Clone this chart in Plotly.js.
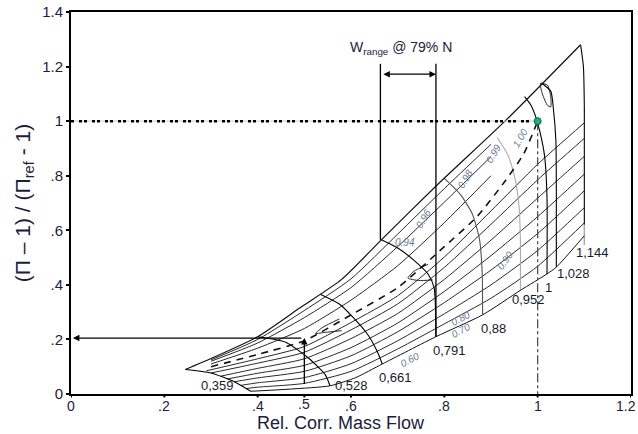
<!DOCTYPE html>
<html><head><meta charset="utf-8">
<script src="https://cdn.plot.ly/plotly-3.0.1.min.js"></script>
<style>html,body{margin:0;padding:0;background:#fff}#chart{width:638px;height:434px}</style>
</head><body><div id="chart"></div>
<script>
// ---- tick labels ----
const xTickVals = [0, 0.2, 0.4, 0.5, 0.6, 0.8, 1, 1.2];
const xTickText = ['0', '.2', '.4', '.5', '.6', '.8', '1', '1.2'];
const yTickVals = [0, 0.2, 0.4, 0.6, 0.8, 1, 1.2, 1.4];
const yTickText = ['0', '.2', '.4', '.6', '.8', '1', '1.2', '1.4'];
const xTitle = 'Rel. Corr. Mass Flow';
const yTitle = '(Π \u2013 1) / (Π<sub>ref</sub> - 1)';

// ---- surge line, choke line, peak-efficiency (dashed) line ----
const surgeX = [0.245, 0.30, 0.40, 0.49, 0.58, 0.665, 0.79, 0.93, 1.092];
const surgeY = [0.09, 0.13, 0.21, 0.315, 0.42, 0.565, 0.775, 1.0, 1.28];
const chokeX = [0.385, 0.47, 0.555, 0.61, 0.667, 0.782, 0.882, 0.963, 1.02, 1.04, 1.10];
const chokeY = [0.01, 0.018, 0.03, 0.06, 0.11, 0.21, 0.29, 0.38, 0.44, 0.465, 0.58];
const ridgeX = [0.30, 0.40, 0.50, 0.60, 0.70, 0.80, 0.87, 0.93, 0.97, 1.0];
const ridgeY = [0.10, 0.145, 0.195, 0.29, 0.39, 0.54, 0.65, 0.78, 0.88, 1.0];

// ---- speed lines ----
const speedNames = ['0,359', '0,528', '0,661', '0,791', '0,88', '0,952', '1', '1,028', '1,144'];
const speedX = [
  [0.245, 0.30, 0.35, 0.385],
  [0.40, 0.46, 0.51, 0.545, 0.555],
  [0.534, 0.575, 0.605, 0.635, 0.655, 0.667],
  [0.665, 0.70, 0.735, 0.765, 0.778, 0.782],
  [0.80, 0.835, 0.86, 0.875, 0.881, 0.882],
  [0.913, 0.935, 0.95, 0.96, 0.963, 0.963],
  [0.972, 0.985, 0.995, 1.005, 1.015, 1.02, 1.02],
  [1.008, 1.028, 1.034, 1.039, 1.04, 1.04],
  [1.092, 1.098, 1.10, 1.10]
];
const speedY = [
  [0.09, 0.077, 0.045, 0.01],
  [0.21, 0.19, 0.13, 0.07, 0.03],
  [0.366, 0.33, 0.28, 0.22, 0.16, 0.11],
  [0.565, 0.535, 0.49, 0.44, 0.39, 0.21],
  [0.79, 0.73, 0.66, 0.57, 0.45, 0.29],
  [0.94, 0.88, 0.80, 0.69, 0.56, 0.38],
  [1.09, 1.06, 1.02, 0.96, 0.87, 0.72, 0.44],
  [1.14, 1.11, 1.04, 0.93, 0.75, 0.465],
  [1.28, 1.20, 1.05, 0.62]
];
const speedColor = ['#000', '#000', '#000', '#000', '#555', '#aaa', '#000', '#000', '#000'];
const speedTailX = [1.10, 1.10];   // grey foot of the 1,144 line
const speedTailY = [0.62, 0.546];
const speedLabelX = [0.313, 0.600, 0.695, 0.812, 0.906, 0.980, 1.024, 1.077, 1.117];
const speedLabelY = [0.030, 0.030, 0.060, 0.160, 0.240, 0.345, 0.390, 0.440, 0.520];

// ---- efficiency contours below the ridge ----
const effLowX = [
  [0.375, 0.40, 0.50, 0.60, 0.70, 0.80, 0.90, 1.00, 1.10],
  [0.365, 0.40, 0.50, 0.60, 0.70, 0.80, 0.90, 1.00, 1.10],
  [0.35, 0.40, 0.50, 0.60, 0.70, 0.80, 0.90, 1.00, 1.10],
  [0.335, 0.40, 0.50, 0.60, 0.70, 0.80, 0.90, 1.00, 1.10],
  [0.32, 0.40, 0.50, 0.60, 0.70, 0.80, 0.90, 1.00, 1.10],
  [0.30, 0.40, 0.50, 0.60, 0.70, 0.80, 0.90, 1.00, 1.10],
  [0.29, 0.40, 0.50, 0.60, 0.70, 0.80, 0.90, 1.00, 1.10]
];
const effLowY = [
  [0.020, 0.025, 0.039, 0.083, 0.165, 0.257, 0.351, 0.468, 0.627],
  [0.032, 0.041, 0.060, 0.111, 0.195, 0.294, 0.400, 0.526, 0.683],
  [0.045, 0.059, 0.083, 0.140, 0.228, 0.335, 0.454, 0.588, 0.745],
  [0.055, 0.076, 0.105, 0.170, 0.260, 0.376, 0.507, 0.650, 0.806],
  [0.065, 0.094, 0.129, 0.203, 0.295, 0.420, 0.564, 0.718, 0.871],
  [0.077, 0.113, 0.153, 0.235, 0.330, 0.464, 0.622, 0.785, 0.937],
  [0.085, 0.129, 0.174, 0.262, 0.360, 0.502, 0.671, 0.842, 0.994]
];
// ---- efficiency contours above the ridge ----
const effUpX = [0.30, 0.40, 0.50, 0.60, 0.70, 0.80, 0.90];
const effUpY = [
  [0.110, 0.168, 0.240, 0.344, 0.470, 0.628, 0.800],
  [0.120, 0.187, 0.280, 0.390, 0.540, 0.703, 0.870],
  [0.125, 0.200, 0.306, 0.422, 0.586, 0.753, 0.915]
];
// ---- small closed efficiency islands ----
const islandX = [
  [0.775, 0.745, 0.722, 0.735, 0.765],
  [0.58, 0.545, 0.524, 0.54, 0.575],
  [1.006, 1.021, 1.028, 1.028, 1.021, 1.01, 1.006]
];
const islandY = [
  [0.418, 0.416, 0.425, 0.45, 0.475],
  [0.232, 0.226, 0.222, 0.245, 0.275],
  [1.138, 1.132, 1.089, 1.052, 1.058, 1.10, 1.138]
];
const effLabelText = ['0.60', '0.70', '0.80', '0.90', '0.94', '0.96', '0.98', '0.99', '1.00'];
const effLabelX = [0.727, 0.835, 0.835, 0.930, 0.715, 0.755, 0.845, 0.906, 0.963];
const effLabelY = [0.125, 0.232, 0.275, 0.490, 0.555, 0.645, 0.790, 0.880, 0.940];
const effLabelAngle = [-28, -28, -28, -55, 0, -60, -60, -60, -60];

// ---- design point, reference lines, mass flow range ----
const designX = 1.0, designY = 1.0;
const opX = 0.5, opY = 0.205;
const wRangeX = [0.663, 0.782];
const wRangeBottom = [0.565, 0.21];
const wRangeTop = 1.21;
const wArrowY = 1.172;
const wLabelX = 0.708, wLabelY = 1.267;

const traces = [];
function line(x, y, color, width, dash) {
  traces.push({x: x, y: y, type: 'scatter', mode: 'lines', hoverinfo: 'skip', showlegend: false,
    line: {color: color, width: width, dash: dash || 'solid', shape: 'spline', smoothing: 0.6}});
}
effLowY.forEach((ys, i) => line(effLowX[i], ys, '#111', 0.9));
effUpY.forEach(ys => line(effUpX, ys, '#111', 0.9));
islandY.forEach((ys, i) => line(islandX[i], ys, '#111', 0.9));
speedX.forEach((xs, i) => line(xs, speedY[i], speedColor[i], 1.1));
line(speedTailX, speedTailY, '#aaa', 1.5);
line(chokeX, chokeY, '#111', 1);
line(surgeX, surgeY, '#111', 1.2);
line(ridgeX, ridgeY, '#111', 1.6, '7px,6px');
// reference lines to design point
traces.push({x: [0, designX], y: [designY, designY], type: 'scatter', mode: 'lines', hoverinfo: 'skip', showlegend: false,
  line: {color: '#c8c8c8', width: 1}});
traces.push({x: [0, designX], y: [designY, designY], type: 'scatter', mode: 'lines', hoverinfo: 'skip', showlegend: false,
  line: {color: '#000', width: 2.5, dash: '3px,5px,3px,2px'}});
traces.push({x: [designX, designX], y: [designY, 0], type: 'scatter', mode: 'lines', hoverinfo: 'skip', showlegend: false,
  line: {color: '#444', width: 1.2, dash: 'dashdot'}});
// W range verticals
wRangeX.forEach((wx, i) => traces.push({x: [wx, wx], y: [wRangeBottom[i], wRangeTop], type: 'scatter', mode: 'lines',
  hoverinfo: 'skip', showlegend: false, line: {color: '#000', width: 1.3}}));
// design point
traces.push({x: [designX], y: [designY], type: 'scatter', mode: 'markers', hoverinfo: 'skip', showlegend: false,
  marker: {color: '#18b07c', size: 7, line: {color: '#0b6b4a', width: 1}}});

const FONT = 'Arial, Liberation Sans, sans-serif';
const annotations = [];
speedNames.forEach((t, i) => annotations.push({x: speedLabelX[i], y: speedLabelY[i], text: t, showarrow: false,
  font: {family: FONT, size: 13, color: '#151a2c'}}));
effLabelText.forEach((t, i) => annotations.push({x: effLabelX[i], y: effLabelY[i], text: t, showarrow: false,
  textangle: effLabelAngle[i], font: {family: FONT, size: 10, color: '#6c7a99', style: 'italic'}}));
annotations.push({x: wLabelX, y: wLabelY, text: 'W<sub>range</sub> @ 79% N', showarrow: false,
  font: {family: FONT, size: 14, color: '#1b2238'}});
// x tick labels, set tight under the axis as in the reference (".5" sits a little higher)
const lastTick = xTickVals.length - 1;
xTickVals.forEach((v, i) => annotations.push({x: v, xref: 'x', yref: 'paper', y: 0, yanchor: 'top',
  xanchor: i === lastTick ? 'right' : 'center', xshift: i === lastTick ? 6 : 0,
  yshift: xTickText[i] === '.5' ? -1 : -3, text: xTickText[i], showarrow: false, borderpad: 0,
  font: {family: FONT, size: 14, color: '#1b2238'}}));
// x axis title at the bottom edge
annotations.push({xref: 'paper', yref: 'paper', x: 0.482, y: -0.1047, yanchor: 'bottom', text: xTitle, showarrow: false,
  borderpad: 0, font: {family: FONT, size: 18, color: '#1b2238'}});
// double arrow of the range
annotations.push({x: wRangeX[1], y: wArrowY, ax: wRangeX[0], ay: wArrowY, axref: 'x', ayref: 'y', xref: 'x', yref: 'y',
  text: ' ', showarrow: true, arrowhead: 2, arrowside: 'end+start', arrowsize: 1, arrowwidth: 1.3, arrowcolor: '#000'});
// operating point read-off arrows
annotations.push({x: opX, y: opY, ax: opX, ay: 0, axref: 'x', ayref: 'y', xref: 'x', yref: 'y',
  text: ' ', showarrow: true, arrowhead: 2, arrowsize: 1, arrowwidth: 1.3, arrowcolor: '#000'});
annotations.push({x: 0.004, y: opY, ax: opX, ay: opY, axref: 'x', ayref: 'y', xref: 'x', yref: 'y',
  text: ' ', showarrow: true, arrowhead: 2, arrowsize: 1, arrowwidth: 1.3, arrowcolor: '#000'});

// short outside tick marks on the x axis, drawn at the tick values
const shapes = xTickVals.map(v => ({type: 'line', xref: 'x', yref: 'paper', x0: v, x1: v, y0: 0, y1: -0.009,
  line: {color: '#000', width: 2}}));

const layout = {
  width: 638, height: 434,
  margin: {l: 71, r: 7, t: 12, b: 40},
  paper_bgcolor: '#fff', plot_bgcolor: '#fff',
  showlegend: false,
  xaxis: {range: [0, 1.2], tickvals: xTickVals, ticks: '', showticklabels: false,
    showline: true, linewidth: 2, linecolor: '#000', mirror: true, showgrid: false, zeroline: false},
  yaxis: {range: [0, 1.4], tickvals: yTickVals, ticktext: yTickText, ticks: 'outside', ticklen: 3, tickwidth: 2,
    tickcolor: '#000', showline: true, linewidth: 2, linecolor: '#000', mirror: true, showgrid: false, zeroline: false,
    tickfont: {family: FONT, size: 15, color: '#1b2238'},
    title: {text: yTitle, standoff: 6, font: {family: FONT, size: 21, color: '#1b2238'}}},
  shapes: shapes,
  annotations: annotations
};
Plotly.newPlot('chart', traces, layout, {staticPlot: true, displayModeBar: false});
</script></body></html>
